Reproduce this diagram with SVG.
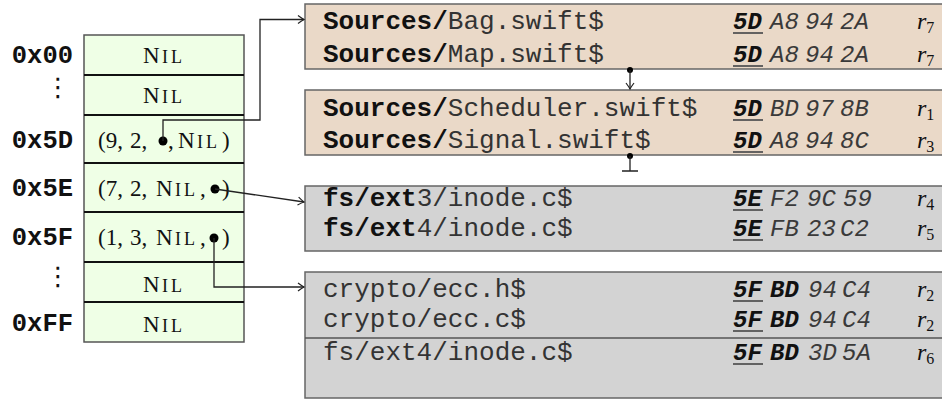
<svg xmlns="http://www.w3.org/2000/svg" width="942" height="403" viewBox="0 0 942 403">
  <style>
    .cell { fill: #efffe6; stroke: #555; stroke-width: 1.5; }
    .div { stroke: #111; stroke-width: 2; }
    .addr { font-family: "Liberation Mono", monospace; font-weight: bold; font-size: 25.5px; fill: #111; text-anchor: end; }
    .vdots { font-family: "DejaVu Sans", sans-serif; font-size: 26px; fill: #111; text-anchor: middle; }
    .tt { font-family: "Liberation Serif", serif; font-size: 23px; fill: #111; }
    .sc { font-size: 18px; }
    .tan { fill: #ead9c8; stroke: #666; stroke-width: 1.5; }
    .grey { fill: #d3d3d3; stroke: #666; stroke-width: 1.5; }
    .fn { font-family: "Liberation Mono", monospace; font-size: 26px; fill: #333; }
    .fn .b { font-weight: bold; fill: #111; }
    .hx { font-family: "Liberation Mono", monospace; font-size: 24px; font-style: italic; fill: #3a3a3a; }
    .hx .b { font-weight: bold; fill: #111; }
    .ul { stroke: #555; stroke-width: 1.8; }
    .rr { font-family: "Liberation Serif", serif; font-style: italic; font-size: 24px; fill: #111; }
    .rr .s { font-style: normal; font-size: 16px; }
    .wire { fill: none; stroke: #222; stroke-width: 1.3; }
    .dot { fill: #000; }
  </style>
  <defs>
    <marker id="arr" markerUnits="userSpaceOnUse" markerWidth="12" markerHeight="12" viewBox="-8 -6 10 12" refX="0" refY="0" orient="auto">
      <path d="M-6,-4 Q-2,-1 0,0 Q-2,1 -6,4" fill="none" stroke="#222" stroke-width="1.2"/>
    </marker>
  </defs>

  <!-- hash table -->
  <g id="table">
    <rect class="cell" x="84" y="35" width="160" height="307"/>
    <line class="div" x1="84" y1="75" x2="244" y2="75"/>
    <line class="div" x1="84" y1="115" x2="244" y2="115"/>
    <line class="div" x1="84" y1="163" x2="244" y2="163"/>
    <line class="div" x1="84" y1="212" x2="244" y2="212"/>
    <line class="div" x1="84" y1="262" x2="244" y2="262"/>
    <line class="div" x1="84" y1="302" x2="244" y2="302"/>
  </g>

  <g id="addresses">
    <text class="addr" x="73" y="63">0x00</text>
    <text class="vdots" x="58" y="96">⋮</text>
    <text class="addr" x="73" y="148">0x5D</text>
    <text class="addr" x="73" y="196">0x5E</text>
    <text class="addr" x="73" y="245">0x5F</text>
    <text class="vdots" x="58" y="285">⋮</text>
    <text class="addr" x="73" y="331">0xFF</text>
  </g>

  <!-- NIL in small caps: N, then I and L placed by hand -->
  <g id="row-00"><text class="tt" y="63"><tspan x="143">N</tspan><tspan class="sc" x="162">I</tspan><tspan class="sc" x="171">L</tspan></text></g>
  <g id="row-01"><text class="tt" y="103"><tspan x="143">N</tspan><tspan class="sc" x="162">I</tspan><tspan class="sc" x="171">L</tspan></text></g>
  <g id="row-5D">
    <text class="tt" y="148"><tspan x="98">(9,</tspan><tspan x="130">2,</tspan><tspan x="168">,</tspan><tspan x="178">N</tspan><tspan class="sc" x="197">I</tspan><tspan class="sc" x="206">L</tspan><tspan x="222">)</tspan></text>
    <circle class="dot" cx="163" cy="141" r="4.5"/>
  </g>
  <g id="row-5E">
    <text class="tt" y="196"><tspan x="98">(7,</tspan><tspan x="130">2,</tspan><tspan x="156">N</tspan><tspan class="sc" x="175">I</tspan><tspan class="sc" x="184">L</tspan><tspan x="200">,</tspan><tspan x="222">)</tspan></text>
    <circle class="dot" cx="215" cy="189" r="4.5"/>
  </g>
  <g id="row-5F">
    <text class="tt" y="245"><tspan x="98">(1,</tspan><tspan x="130">3,</tspan><tspan x="156">N</tspan><tspan class="sc" x="175">I</tspan><tspan class="sc" x="184">L</tspan><tspan x="200">,</tspan><tspan x="222">)</tspan></text>
    <circle class="dot" cx="214" cy="238" r="4.5"/>
  </g>
  <g id="row-FE"><text class="tt" y="292"><tspan x="143">N</tspan><tspan class="sc" x="162">I</tspan><tspan class="sc" x="171">L</tspan></text></g>
  <g id="row-FF"><text class="tt" y="332"><tspan x="143">N</tspan><tspan class="sc" x="162">I</tspan><tspan class="sc" x="171">L</tspan></text></g>

  <!-- bucket 5D, first entry -->
  <g id="bucket-5D-a">
    <rect class="tan" x="305" y="4" width="645" height="65"/>
    <text class="fn" x="323" y="29"><tspan class="b">Sources/</tspan>Bag.swift$</text>
    <text class="hx" y="29"><tspan class="b" x="733">5D</tspan><tspan x="770">A8</tspan><tspan x="805">94</tspan><tspan x="840">2A</tspan></text>
    <line class="ul" x1="733" y1="33" x2="763" y2="33"/>
    <text class="rr" x="917" y="29">r<tspan class="s" dy="4">7</tspan></text>
    <text class="fn" x="323" y="62"><tspan class="b">Sources/</tspan>Map.swift$</text>
    <text class="hx" y="62"><tspan class="b" x="733">5D</tspan><tspan x="770">A8</tspan><tspan x="805">94</tspan><tspan x="840">2A</tspan></text>
    <line class="ul" x1="733" y1="66" x2="763" y2="66"/>
    <text class="rr" x="917" y="62">r<tspan class="s" dy="4">7</tspan></text>
  </g>

  <!-- bucket 5D, second entry -->
  <g id="bucket-5D-b">
    <rect class="tan" x="305" y="90" width="645" height="65"/>
    <text class="fn" x="323" y="116"><tspan class="b">Sources/</tspan>Scheduler.swift$</text>
    <text class="hx" y="116"><tspan class="b" x="733">5D</tspan><tspan x="770">BD</tspan><tspan x="805">97</tspan><tspan x="840">8B</tspan></text>
    <line class="ul" x1="733" y1="120" x2="763" y2="120"/>
    <text class="rr" x="917" y="116">r<tspan class="s" dy="4">1</tspan></text>
    <text class="fn" x="323" y="148"><tspan class="b">Sources/</tspan>Signal.swift$</text>
    <text class="hx" y="148"><tspan class="b" x="733">5D</tspan><tspan x="770">A8</tspan><tspan x="805">94</tspan><tspan x="840">8C</tspan></text>
    <line class="ul" x1="733" y1="152" x2="763" y2="152"/>
    <text class="rr" x="917" y="148">r<tspan class="s" dy="4">3</tspan></text>
  </g>

  <!-- bucket 5E -->
  <g id="bucket-5E">
    <rect class="grey" x="305" y="186" width="645" height="65"/>
    <text class="fn" x="323" y="206"><tspan class="b">fs/ext</tspan>3/inode.c$</text>
    <text class="hx" y="206"><tspan class="b" x="733">5E</tspan><tspan x="770">F2</tspan><tspan x="807">9C</tspan><tspan x="843">59</tspan></text>
    <line class="ul" x1="733" y1="210" x2="763" y2="210"/>
    <text class="rr" x="917" y="206">r<tspan class="s" dy="4">4</tspan></text>
    <text class="fn" x="323" y="236"><tspan class="b">fs/ext</tspan>4/inode.c$</text>
    <text class="hx" y="236"><tspan class="b" x="733">5E</tspan><tspan x="770">FB</tspan><tspan x="807">23</tspan><tspan x="840">C2</tspan></text>
    <line class="ul" x1="733" y1="240" x2="763" y2="240"/>
    <text class="rr" x="917" y="236">r<tspan class="s" dy="4">5</tspan></text>
  </g>

  <!-- bucket 5F -->
  <g id="bucket-5F">
    <rect class="grey" x="305" y="272" width="645" height="126"/>
    <line x1="305" y1="338" x2="942" y2="338" stroke="#555" stroke-width="1.3"/>
    <text class="fn" x="323" y="297">crypto/ecc.h$</text>
    <text class="hx" y="297"><tspan class="b" x="733">5F</tspan><tspan class="b" x="770">BD</tspan><tspan x="808">94</tspan><tspan x="842">C4</tspan></text>
    <line class="ul" x1="733" y1="301" x2="763" y2="301"/>
    <text class="rr" x="917" y="297">r<tspan class="s" dy="4">2</tspan></text>
    <text class="fn" x="323" y="327">crypto/ecc.c$</text>
    <text class="hx" y="327"><tspan class="b" x="733">5F</tspan><tspan class="b" x="770">BD</tspan><tspan x="808">94</tspan><tspan x="842">C4</tspan></text>
    <line class="ul" x1="733" y1="331" x2="763" y2="331"/>
    <text class="rr" x="917" y="327">r<tspan class="s" dy="4">2</tspan></text>
    <text class="fn" x="323" y="360">fs/ext4/inode.c$</text>
    <text class="hx" y="360"><tspan class="b" x="733">5F</tspan><tspan class="b" x="770">BD</tspan><tspan x="808">3D</tspan><tspan x="842">5A</tspan></text>
    <line class="ul" x1="733" y1="364" x2="763" y2="364"/>
    <text class="rr" x="917" y="360">r<tspan class="s" dy="4">6</tspan></text>
  </g>

  <!-- pointers -->
  <g id="connectors">
    <path class="wire" d="M163,141 V120 H260 V19.5 H304" marker-end="url(#arr)"/>
    <path class="wire" d="M215,189 L304,202" marker-end="url(#arr)"/>
    <path class="wire" d="M214,238 V287 H304" marker-end="url(#arr)"/>
    <circle class="dot" cx="630" cy="70" r="3"/>
    <path class="wire" d="M630,70 V89" marker-end="url(#arr)"/>
    <circle class="dot" cx="630" cy="156" r="3"/>
    <path class="wire" d="M630,156 V171 M622,171 H638"/>
  </g>
</svg>
